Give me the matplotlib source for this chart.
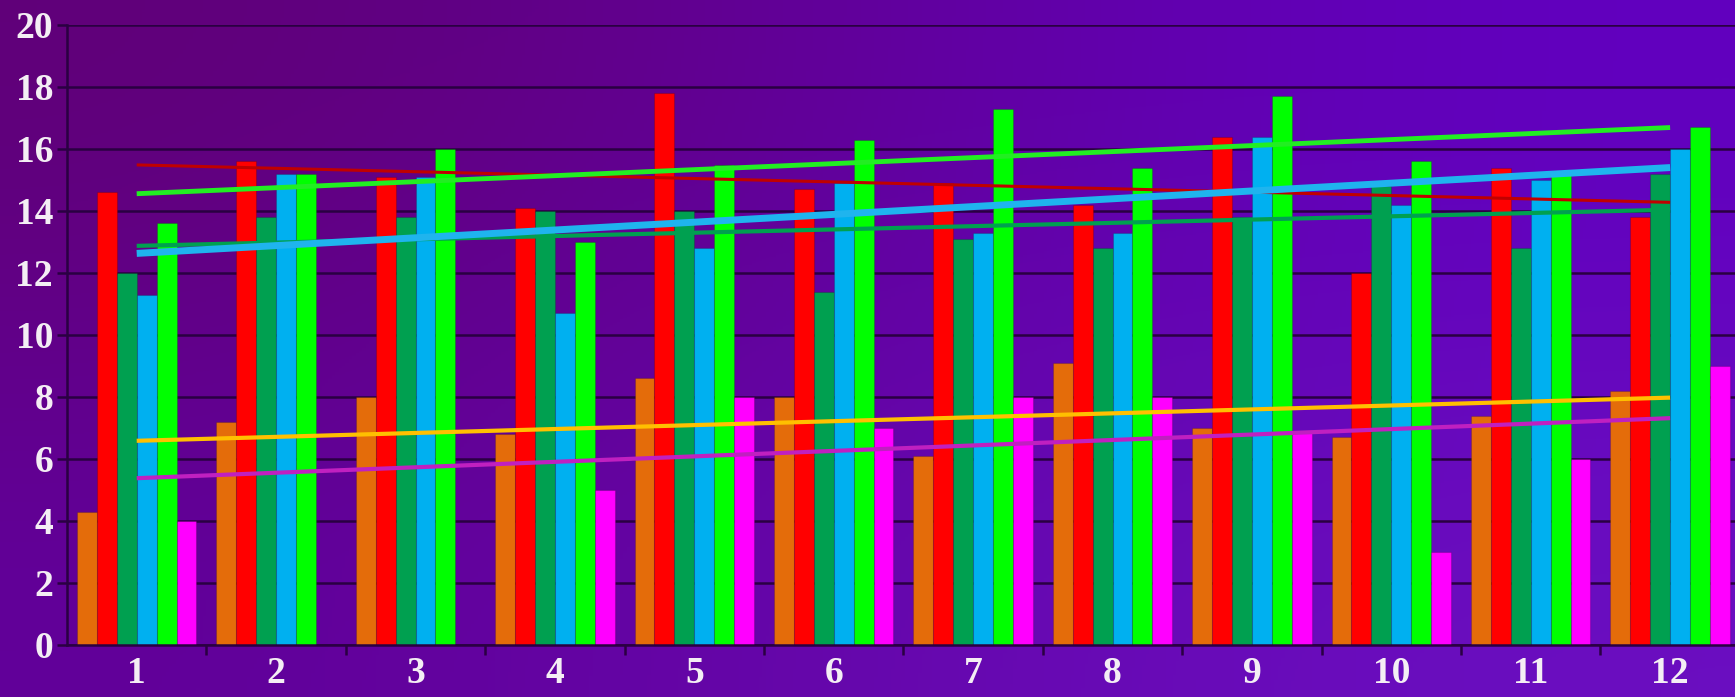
import numpy as np
import matplotlib
matplotlib.use("Agg")
import matplotlib.pyplot as plt

groups = [1, 2, 3, 4, 5, 6, 7, 8, 9, 10, 11, 12]
orange = [4.3, 7.2, 8.0, 6.8, 8.6, 8.0, 6.1, 9.1, 7.0, 6.7, 7.4, 8.2]
red = [14.6, 15.6, 15.1, 14.1, 17.8, 14.7, 14.9, 14.2, 16.4, 12.0, 15.4, 13.8]
dark_green = [12.0, 13.8, 13.8, 14.0, 14.0, 11.4, 13.1, 12.8, 13.8, 14.8, 12.8, 15.2]
sky_blue = [11.3, 15.2, 15.1, 10.7, 12.8, 14.9, 13.3, 13.3, 16.4, 14.2, 15.0, 16.0]
green = [13.6, 15.2, 16.0, 13.0, 15.5, 16.3, 17.3, 15.4, 17.7, 15.6, 15.2, 16.7]
magenta = [4.0, np.nan, np.nan, 5.0, 8.0, 7.0, 8.0, 8.0, 6.9, 3.0, 6.0, 9.0]

series = [orange, red, dark_green, sky_blue, green, magenta]
bar_colors = ["#e46c0a", "#ff0000", "#00a050", "#00b0f0", "#00ff00", "#ff00ff"]
# trendline colour / width per series
trend_styles = [("#ffc000", 3.0), ("#c00000", 2.2), ("#00a050", 3.0),
                ("#1fb4ee", 5.0), ("#22ee22", 3.5), ("#c020c0", 3.0)]

dpi = 100
fig = plt.figure(figsize=(1735 / dpi, 697 / dpi), dpi=dpi)

# purple gradient background
bg = fig.add_axes([0, 0, 1, 1], zorder=-10)
bg.axis("off")
grad = np.array([[[0.38, 0.00, 0.46], [0.38, 0.00, 0.76]],
                 [[0.38, 0.00, 0.60], [0.42, 0.06, 0.76]]])
bg.imshow(grad, aspect="auto", interpolation="bicubic", extent=[0, 1, 0, 1])

ax = fig.add_axes([67 / 1735, 1 - 645 / 697, 1 - 67 / 1735, (645 - 25) / 697])
ax.set_facecolor("none")

x = np.array(groups, dtype=float)
width = 1 / 7
for i, (vals, col) in enumerate(zip(series, bar_colors)):
    offs = (i - 2.5) * width
    ax.bar(x + offs, np.nan_to_num(vals), width, color=col,
           edgecolor=(0, 0, 0, 0.15), linewidth=0.8, zorder=2)

# linear trendlines (blank cells skipped)
for vals, (col, lw) in zip(series, trend_styles):
    v = np.array(vals, dtype=float)
    ok = ~np.isnan(v)
    k, b = np.polyfit(x[ok], v[ok], 1)
    ax.plot([x[0], x[-1]], [k * x[0] + b, k * x[-1] + b], color=col,
            lw=lw, solid_capstyle="butt", zorder=3)

grid_col = "#2a0042"
ax.set_ylim(0, 20)
ax.set_xlim(0.5, 0.5 + (1735 - 67) / 139.4)
ax.set_yticks(range(0, 21, 2))
ax.yaxis.grid(True, color=grid_col, lw=1.8, zorder=1)
ax.set_axisbelow(True)
ax.set_xticks(groups)
ax.set_xticks(np.arange(1.5, 12, 1.0), minor=True)
for s in ["top", "right"]:
    ax.spines[s].set_visible(False)
for s in ["left", "bottom"]:
    ax.spines[s].set_color(grid_col)
    ax.spines[s].set_linewidth(1.8)

font = dict(family="Liberation Serif", weight="bold", size=27)
ax.tick_params(axis="y", length=7, width=1.8, color=grid_col, pad=3,
               labelcolor="#f4eef4")
ax.tick_params(axis="x", which="major", length=0, pad=8, labelcolor="#f4eef4")
ax.tick_params(axis="x", which="minor", length=7, width=1.8, color=grid_col)
for lab in ax.get_xticklabels() + ax.get_yticklabels():
    lab.set_fontproperties(font)

fig.savefig("out.png", dpi=dpi)
